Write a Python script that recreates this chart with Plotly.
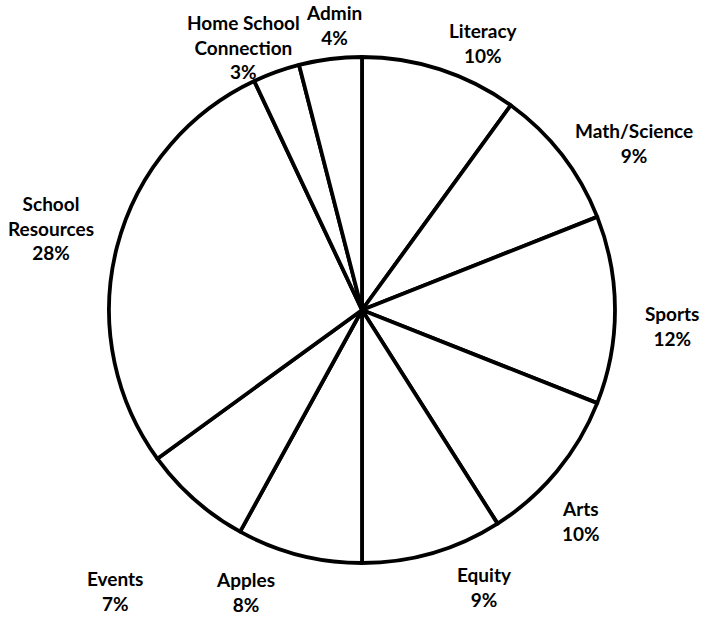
import math
import plotly.graph_objects as go

categories = ["Literacy", "Math/Science", "Sports", "Arts", "Equity", "Apples",
              "Events", "School<br>Resources", "Home School<br>Connection", "Admin"]
values = [10, 9, 12, 10, 9, 8, 7, 28, 3, 4]

# label placement tweaks (angle nudge in degrees, radial distance in px)
label_nudge = [6.4, 6.3, 3, 4.3, -7.6, 8, 0, 0.4, -4.4, 1.6]
label_dist = [293, 319, 310, 304, 303, 305, 374, 322, 288, 286]

W, H = 708, 619
L, R, T, B = 109, 93, 57, 56
pw, ph = W - L - R, H - T - B

fig = go.Figure(go.Pie(
    labels=categories, values=values, sort=False, direction="clockwise",
    rotation=0, textinfo="none", hoverinfo="label+percent",
    marker=dict(colors=["white"] * len(values), line=dict(color="black", width=3.8)),
    showlegend=False,
))

total = sum(values)
cum = 0
annotations = []
for cat, v, nd, d in zip(categories, values, label_nudge, label_dist):
    mid = (cum + v / 2) / total * 360 + nd
    cum += v
    a = math.radians(mid)
    x = 0.5 + d * math.sin(a) / pw
    y = 0.5 + d * math.cos(a) / ph
    pct = round(v / total * 100)
    annotations.append(dict(
        x=x, y=y, xref="paper", yref="paper", showarrow=False,
        text=f"<b>{cat}<br>{pct}%</b>", xanchor="center", yanchor="middle",
        align="center", font=dict(family="Lato, Open Sans, sans-serif", size=19, color="black"),
    ))

fig.update_layout(
    width=W, height=H, margin=dict(l=L, r=R, t=T, b=B),
    paper_bgcolor="white", plot_bgcolor="white", annotations=annotations,
)
fig.write_html("out.html", config={"displayModeBar": False},
               post_script="document.body.style.margin='0';document.body.style.overflow='hidden';")
